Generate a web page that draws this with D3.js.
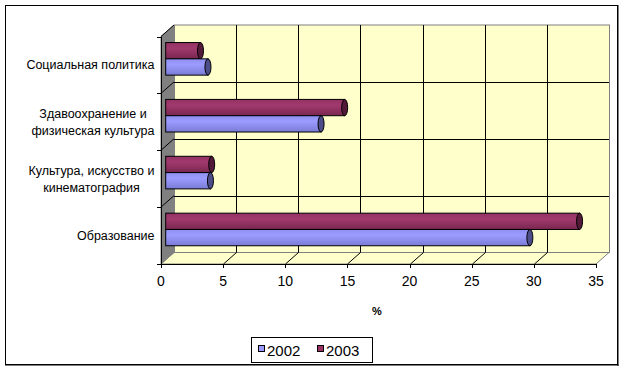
<!DOCTYPE html>
<html><head><meta charset="utf-8">
<script src="https://cdn.jsdelivr.net/npm/d3@7"></script>
<style>html,body{margin:0;padding:0;background:#fff}svg{display:block}</style>
</head><body><svg id="c" width="624" height="372"></svg>
<script>
const categories = ["Социальная политика", "Здавоохранение и\nфизическая культура", "Культура, искусство и\nкинематография", "Образование"];
const seriesNames = ["2002", "2003"];
const values2002 = [3.4, 12.5, 3.6, 29.3];
const values2003 = [2.8, 14.4, 3.7, 33.3];
const xTicks = [0, 5, 10, 15, 20, 25, 30, 35];
const colors = {"2002": "#9999FF", "2003": "#993366"};

const svg = d3.select("#c");
const font = "'Liberation Sans', Arial, sans-serif";
const DX = 13, DY = 11.5;
const x = d3.scaleLinear().domain([0, 35]).range([161, 596]);
const y = d3.scaleBand().domain(categories).range([36.5, 264]);
const xBar = d3.scaleLinear().domain([0, 35]).range([165.7, 165.7 + 435]);

// frame
svg.append("rect").attr("x", 5.5).attr("y", 5.5).attr("width", 612).attr("height", 359)
  .attr("fill", "#fff").attr("stroke", "#000").attr("stroke-width", 1);
svg.append("line").attr("x1", 618).attr("x2", 618).attr("y1", 5).attr("y2", 366).attr("stroke", "#000").attr("stroke-width", 1);
svg.append("line").attr("x1", 5).attr("x2", 618.5).attr("y1", 365).attr("y2", 365).attr("stroke", "#000").attr("stroke-width", 1);

const x0 = x(0), x1 = x(35), yT = y.range()[0], yB = y.range()[1];
// back wall
svg.append("rect").attr("x", x0 + DX + 0.5).attr("y", yT - DY).attr("width", x1 - x0).attr("height", yB - yT)
  .attr("fill", "#FFFFCC").attr("stroke", "#808080");
// floor
svg.append("path").attr("d", `M${x0},${yB}L${x1},${yB}L${x1 + DX},${yB - DY}L${x0 + DX},${yB - DY}Z`)
  .attr("fill", "#FFFFCC").attr("stroke", "#808080");
// left wall
svg.append("path").attr("d", `M${x0},${yT}L${x0 + DX},${yT - DY}L${x0 + DX},${yB - DY}L${x0},${yB}Z`)
  .attr("fill", "#808080").attr("stroke", "#808080");

const g = svg.append("g").attr("stroke", "#000").attr("stroke-width", 1).attr("fill", "none");
// vertical gridlines on back wall & floor
xTicks.filter(t => t > 0 && t < 35).forEach(t => {
  const xv = Math.round(x(t)) + 0.5;
  g.append("line").attr("x1", xv + DX).attr("x2", xv + DX).attr("y1", yT - DY).attr("y2", yB - DY);
  g.append("line").attr("x1", xv).attr("x2", xv + DX).attr("y1", yB).attr("y2", yB - DY);
});
// category gridlines on back wall & left wall
const bounds = [yT].concat(categories.map(c => y(c) + y.bandwidth()));
bounds.forEach((b, i) => {
  if (i > 0 && i < bounds.length - 1) {
    g.append("line").attr("x1", x0 + DX).attr("x2", x1 + DX).attr("y1", Math.round(b - DY) + 0.5).attr("y2", Math.round(b - DY) + 0.5);
  }
  if (i < bounds.length - 1) {
    g.append("line").attr("x1", x0).attr("x2", x0 + DX).attr("y1", b).attr("y2", b - DY);
  }
  g.append("line").attr("x1", x0 - 4).attr("x2", x0).attr("y1", Math.round(b) + 0.5).attr("y2", Math.round(b) + 0.5);
});
// axes lines
g.append("line").attr("x1", x0 + 0.5).attr("x2", x0 + 0.5).attr("y1", yT).attr("y2", yB);
g.append("line").attr("x1", x0).attr("x2", x1).attr("y1", yB + 0.5).attr("y2", yB + 0.5);
xTicks.forEach(t => {
  const xv = Math.round(x(t)) + 0.5;
  g.append("line").attr("x1", xv).attr("x2", xv).attr("y1", yB).attr("y2", yB + 4);
});

// tick labels
svg.append("g").selectAll("text").data(xTicks).join("text")
  .attr("x", d => x(d)).attr("y", 286).attr("text-anchor", "middle")
  .attr("font-family", font).attr("font-size", 14).attr("fill", "#000").text(d => d);
svg.append("text").attr("x", 377).attr("y", 315).attr("text-anchor", "middle")
  .attr("font-family", font).attr("font-size", 11).attr("font-weight", "bold").text("%");

// category labels: block right-aligned, lines centered
categories.forEach(c => {
  const lines = c.split("\n");
  const cy = y(c) + y.bandwidth() / 2;
  const tg = svg.append("g");
  const texts = lines.map((l, i) => tg.append("text").attr("font-family", font).attr("font-size", 12.5)
    .attr("fill", "#000").attr("text-anchor", "middle")
    .attr("y", cy + (i - (lines.length - 1) / 2) * 17 + 4.5).text(l));
  const maxW = d3.max(texts, t => t.node().getComputedTextLength());
  texts.forEach(t => t.attr("x", 154.5 - maxW / 2));
});

// gradients
const defs = svg.append("defs");
function grad(id, top, mid, bot) {
  const lg = defs.append("linearGradient").attr("id", id).attr("x1", 0).attr("x2", 0).attr("y1", 0).attr("y2", 1);
  lg.append("stop").attr("offset", "0%").attr("stop-color", mid);
  lg.append("stop").attr("offset", "35%").attr("stop-color", top);
  lg.append("stop").attr("offset", "100%").attr("stop-color", bot);
}
grad("g2002", "#9c9cff", "#8f8ff0", "#7a7ad6");
grad("g2003", "#a13a6e", "#943163", "#7a2650");
const capCol = {"2002": "#4d4d8a", "2003": "#521a38"};

const barH = 16.3;
const bars = [];
categories.forEach((c, i) => {
  const cy = y(c) + y.bandwidth() / 2 - 6.1;
  bars.push({s: "2003", v: values2003[i], y0: cy - barH});
  bars.push({s: "2002", v: values2002[i], y0: cy});
});
const bg = svg.append("g");
bars.forEach(b => {
  const xs = xBar(0), xe = xBar(b.v);
  bg.append("rect").attr("x", xs).attr("y", b.y0).attr("width", xe - xs).attr("height", barH)
    .attr("fill", `url(#g${b.s})`).attr("stroke", "#000").attr("stroke-width", 1);
  bg.append("ellipse").attr("cx", xe).attr("cy", b.y0 + barH / 2).attr("rx", 3).attr("ry", barH / 2)
    .attr("fill", capCol[b.s]).attr("stroke", "#000").attr("stroke-width", 1);
});

// legend
const lg = svg.append("g");
lg.append("rect").attr("x", 251.5).attr("y", 337.5).attr("width", 121).attr("height", 25)
  .attr("fill", "#fff").attr("stroke", "#000");
const lx = [258.5, 317.5];
seriesNames.forEach((s, i) => {
  lg.append("rect").attr("x", lx[i]).attr("y", 345.5).attr("width", 6).attr("height", 6)
    .attr("fill", colors[s]).attr("stroke", "#000");
  lg.append("text").attr("x", lx[i] + 8.5).attr("y", 356).attr("font-family", font).attr("font-size", 15)
    .attr("fill", "#000").text(s);
});
</script></body></html>
